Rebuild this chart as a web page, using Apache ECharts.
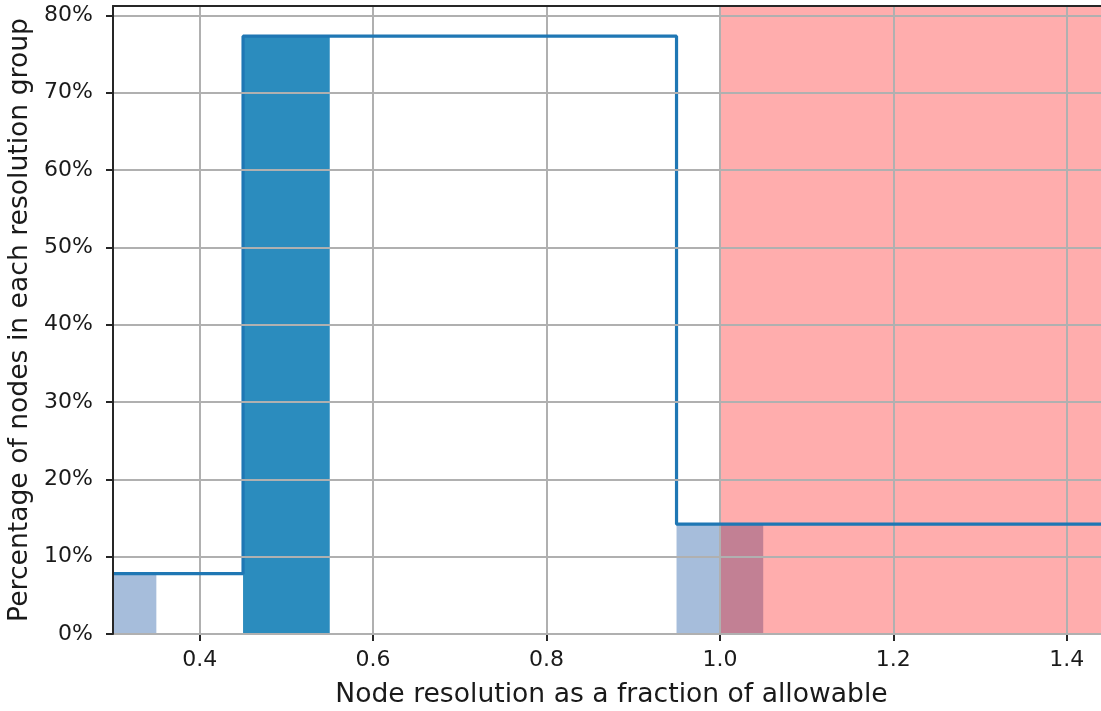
<!DOCTYPE html>
<html>
<head>
<meta charset="utf-8">
<script src="https://cdn.jsdelivr.net/npm/echarts@6/dist/echarts.min.js"></script>
<style>
  html, body { margin: 0; padding: 0; background: #fff; }
  #chart1 { width: 1101px; height: 711px; }
</style>
</head>
<body>
<div id="chart1"></div>
<script>
function $(_) {return document.getElementById(_);}

// histogram bins: [left edge, right edge, percent]
const lightBins = [[0.30, 0.35, 7.8], [0.95, 1.05, 14.2]];
const darkBins = [[0.45, 0.55, 77.3]];

// step outline: [x, percent]
const stepLine = [[0.30, 7.8], [0.45, 77.3], [0.95, 14.2], [1.50, 14.2]];

// shaded region beyond the allowable limit
const limitX = 1.0;

const xMin = 0.3, xMax = 1.4396;
const yMin = 0, yMax = 81.2;
const xTicks = [0.4, 0.6, 0.8, 1.0, 1.2, 1.4];
const yTicks = [0, 10, 20, 30, 40, 50, 60, 70, 80];

const ink = '#262626';
const font = 'DejaVu Sans';

function binItem(params, api) {
  const start = api.coord([api.value(0), api.value(2)]);
  const end = api.coord([api.value(1), 0]);
  return {
    type: 'rect',
    shape: { x: start[0], y: start[1], width: end[0] - start[0], height: end[1] - start[1] },
    style: { fill: api.visual('color') }
  };
}

document.addEventListener('DOMContentLoaded', function() {
  const echart1 = echarts.init($('chart1'), null, { renderer: 'canvas' });

  const option = {
    animation: false,
    backgroundColor: '#fff',
    grid: { left: 113, right: 0, top: 6, bottom: 77, outerBoundsMode: 'none', containLabel: false },
    xAxis: [
      {
        type: 'value',
        min: xMin, max: xMax,
        z: 4,
        name: 'Node resolution as a fraction of allowable',
        nameLocation: 'middle',
        nameGap: 48,
        nameTextStyle: { fontFamily: font, fontSize: 26.6, color: '#1a1a1a', padding: [0, 0, 0, 9] },
        axisLine: { show: true, onZero: false, lineStyle: { color: ink, width: 2 } },
        axisTick: { show: true, length: 7, customValues: xTicks, lineStyle: { color: ink, width: 2 } },
        axisLabel: {
          customValues: xTicks, margin: 15,
          fontFamily: font, fontSize: 22, color: '#1a1a1a',
          formatter: function (v) { return v.toFixed(1); }
        },
        splitLine: { show: true, lineStyle: { color: '#b0b0b0', width: 2 } }
      },
      {
        // top spine
        type: 'value',
        position: 'top',
        min: xMin, max: xMax,
        z: 6,
        axisLine: { show: true, onZero: false, lineStyle: { color: ink, width: 2 } },
        axisTick: { show: false },
        axisLabel: { show: false },
        splitLine: { show: false }
      }
    ],
    yAxis: {
      type: 'value',
      min: yMin, max: yMax, interval: 10,
      z: 6,
      name: 'Percentage of nodes in each resolution group',
      nameLocation: 'middle',
      nameGap: 72,
      nameTextStyle: { fontFamily: font, fontSize: 26.6, color: '#1a1a1a' },
      axisLine: { show: true, lineStyle: { color: ink, width: 2 } },
      axisTick: { show: true, length: 7, customValues: yTicks, lineStyle: { color: ink, width: 2 } },
      axisLabel: {
        customValues: yTicks, margin: 20,
        fontFamily: font, fontSize: 22, color: '#1a1a1a',
        formatter: '{value}%'
      },
      splitLine: { show: true, lineStyle: { color: '#b0b0b0', width: 2 } }
    },
    series: [
      {
        type: 'custom',
        name: 'light',
        z: 2,
        clip: true,
        itemStyle: { color: '#a6bddb' },
        renderItem: binItem,
        data: lightBins,
        markArea: {
          z: 3,
          silent: true,
          itemStyle: { color: 'rgba(255,0,0,0.32)' },
          data: [[{ xAxis: limitX }, { xAxis: xMax }]]
        }
      },
      {
        type: 'custom',
        name: 'dark',
        z: 2,
        clip: true,
        itemStyle: { color: '#2b8cbe' },
        renderItem: binItem,
        data: darkBins
      },
      {
        type: 'line',
        name: 'outline',
        z: 5,
        step: 'end',
        symbol: 'none',
        clip: true,
        lineStyle: { color: '#1f77b4', width: 3.2 },
        data: stepLine
      }
    ]
  };

  echart1.setOption(option);
});
</script>
</body>
</html>
